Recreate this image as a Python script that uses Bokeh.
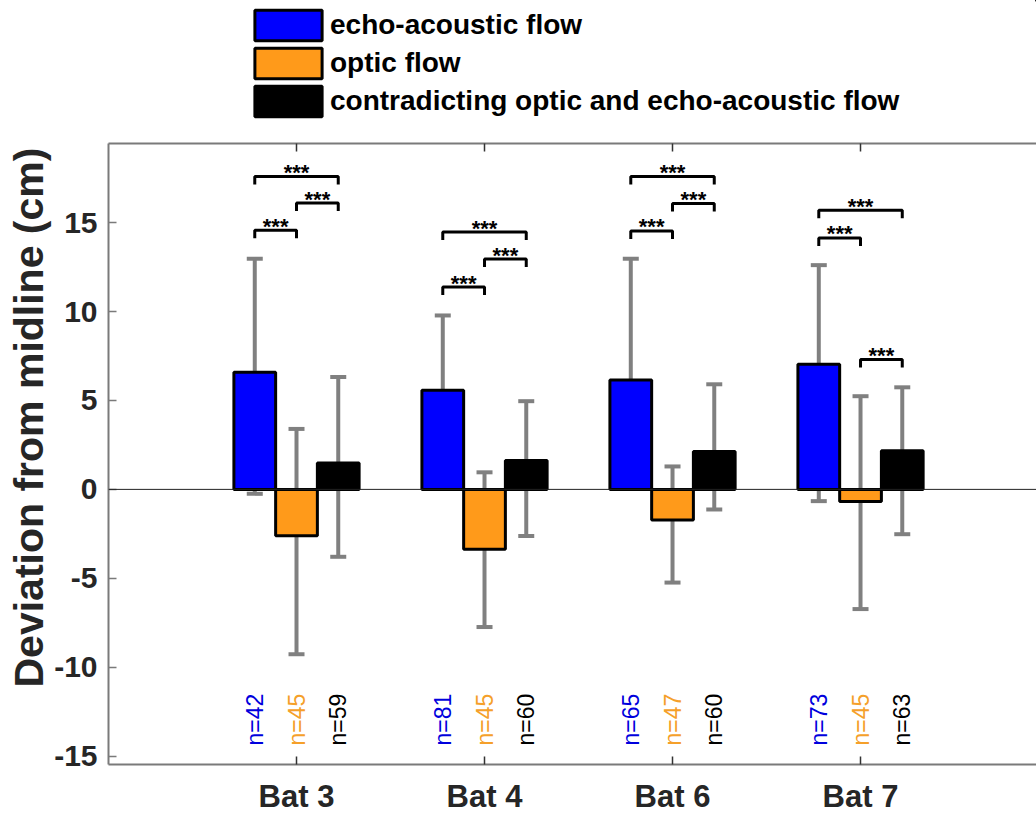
import math
from bokeh.plotting import figure
from bokeh.layouts import column
from bokeh.models import (ColumnDataSource, Whisker, TeeHead, Span, Legend, LegendItem,
                          FixedTicker, LinearAxis, Range1d, Title)
from bokeh.core.properties import value
from bokeh.embed import file_html
from bokeh.resources import INLINE

# ---------------- data ----------------
categories = ["Bat 3", "Bat 4", "Bat 6", "Bat 7"]
series_names = ["echo-acoustic flow", "optic flow",
                "contradicting optic and echo-acoustic flow"]

echo_mean = [6.58, 5.58, 6.15, 7.04]
echo_low = [-0.25, 1.01, 1.63, -0.66]
echo_high = [12.97, 9.78, 12.97, 12.61]

optic_mean = [-2.60, -3.36, -1.72, -0.68]
optic_low = [-9.27, -7.74, -5.24, -6.73]
optic_high = [3.40, 0.96, 1.29, 5.24]

contra_mean = [1.48, 1.63, 2.13, 2.17]
contra_low = [-3.79, -2.62, -1.13, -2.52]
contra_high = [6.32, 4.96, 5.91, 5.74]

n_echo = [42, 81, 65, 73]
n_optic = [45, 45, 47, 45]
n_contra = [59, 60, 60, 63]

# significance brackets: category index, series from, series to, height
bracket_cat = [0, 0, 0, 1, 1, 1, 2, 2, 2, 3, 3, 3]
bracket_from = [0, 1, 0, 0, 1, 0, 0, 1, 0, 0, 0, 1]
bracket_to = [2, 2, 1, 2, 2, 1, 2, 2, 1, 2, 1, 2]
bracket_height = [17.6, 16.1, 14.57, 14.47, 12.95, 11.38,
                  17.6, 16.08, 14.53, 15.69, 14.14, 7.31]
bracket_label = ["***"] * 12

y_ticks = [-15, -10, -5, 0, 5, 10, 15]
y_tick_labels = ["-15", "-10", "-5", "0", "5", "10", "15"]
y_label = "Deviation from midline (cm)"

# ---------------- style ----------------
COLORS = ["#0000ff", "#ff9a1a", "#000000"]
N_COLORS = ["#0000dd", "#f5a02a", "#000000"]
ERR = "#808080"
AXC = "#7a7a7a"
TXT = "#262626"
FONT = "Liberation Sans"
OFFSET = 0.222
BAR_W = 0.222
LEG = 0.45
LEG_H = 125

# ---------------- legend strip ----------------
lf = figure(width=1036, height=LEG_H, output_backend="svg", toolbar_location=None,
            x_range=Range1d(0, 1), y_range=Range1d(0, 1),
            min_border_left=0, min_border_right=0, min_border_top=0, min_border_bottom=0)
lf.axis.visible = False
lf.grid.visible = False
lf.outline_line_color = None
leg_items = []
for s in range(3):
    r = lf.vbar(x=[5], top=[5], bottom=4, width=0.1, fill_color=COLORS[s],
                line_color="black", line_width=3)
    leg_items.append(LegendItem(label=series_names[s], renderers=[r]))
legend = Legend(items=leg_items, location=(138, 5), orientation="vertical",
                glyph_width=84, glyph_height=38, label_height=38, spacing=0,
                padding=0, margin=0, label_standoff=-4,
                label_text_font=FONT, label_text_font_size="28px",
                label_text_font_style="bold", label_text_color="black",
                border_line_color=None, background_fill_alpha=0)
lf.add_layout(legend, "center")

# ---------------- main plot ----------------
p = figure(width=1036, height=816 - LEG_H, output_backend="svg", toolbar_location=None,
           x_range=Range1d(0, 4.936), y_range=Range1d(-15.47, 19.45),
           min_border_left=108, min_border_right=0, min_border_top=143 - LEG_H,
           min_border_bottom=48)
p.grid.visible = False
p.outline_line_color = None

means = [echo_mean, optic_mean, contra_mean]
lows = [echo_low, optic_low, contra_low]
highs = [echo_high, optic_high, contra_high]
ns = [n_echo, n_optic, n_contra]

centers = [i + 1 for i in range(len(categories))]

for s in range(3):
    xs = [c + (s - 1) * OFFSET for c in centers]
    src = ColumnDataSource(dict(x=xs, top=means[s], low=lows[s], high=highs[s],
                                n=["n=%d" % v for v in ns[s]],
                                ny=[-14.4] * len(xs)))
    p.vbar(x="x", top="top", bottom=0, width=BAR_W, source=src,
           fill_color=COLORS[s], line_color="black", line_width=3)
    w = Whisker(base="x", lower="low", upper="high", source=src,
                line_color=ERR, line_width=4,
                upper_head=TeeHead(size=16, line_color=ERR, line_width=4),
                lower_head=TeeHead(size=16, line_color=ERR, line_width=4))
    p.add_layout(w)
    p.text(x="x", y="ny", text="n", source=src, angle=math.pi / 2,
           text_align="left", text_baseline="middle",
           text_font=value(FONT), text_font_size="23px", text_color=N_COLORS[s])

p.add_layout(Span(location=0, dimension="width", line_color="#222222", line_width=1))

# brackets
bx, by, tx, ty = [], [], [], []
for c, a, b, h in zip(bracket_cat, bracket_from, bracket_to, bracket_height):
    xa = centers[c] + (a - 1) * OFFSET
    xb = centers[c] + (b - 1) * OFFSET
    bx.append([xa, xa, xb, xb])
    by.append([h - LEG, h, h, h - LEG])
    tx.append((xa + xb) / 2)
    ty.append(h)
p.multi_line(xs=bx, ys=by, line_color="black", line_width=3)
p.text(x=tx, y=ty, text=bracket_label, text_align="center", text_baseline="alphabetic",
       y_offset=-4, text_font=value(FONT), text_font_size="22px",
       text_font_style="bold", text_color="black")

# axes
p.yaxis.ticker = FixedTicker(ticks=y_ticks)
p.yaxis.major_label_overrides = {t: l for t, l in zip(y_ticks, y_tick_labels)}
p.yaxis.major_label_text_font = FONT
p.yaxis.major_label_text_font_size = "30px"
p.yaxis.major_label_text_font_style = "bold"
p.yaxis.major_label_text_color = TXT
p.yaxis.major_label_standoff = 11
p.yaxis.major_tick_in = 8
p.yaxis.major_tick_out = 0
p.yaxis.minor_tick_line_color = None
p.yaxis.axis_line_color = AXC
p.yaxis.axis_line_width = 2
p.yaxis.major_tick_line_color = AXC
p.yaxis.major_tick_line_width = 1.5

p.add_layout(Title(text=y_label, align="left", offset=77, standoff=0,
                   text_font=FONT, text_font_size="41px", text_font_style="bold",
                   text_color=TXT), "left")

p.xaxis.ticker = FixedTicker(ticks=centers)
p.xaxis.major_label_overrides = {c: name for c, name in zip(centers, categories)}
p.xaxis.major_label_text_font = FONT
p.xaxis.major_label_text_font_size = "31px"
p.xaxis.major_label_text_font_style = "bold"
p.xaxis.major_label_text_color = TXT
p.xaxis.major_label_standoff = 14
p.xaxis.major_tick_in = 8
p.xaxis.major_tick_out = 0
p.xaxis.minor_tick_line_color = None
p.xaxis.axis_line_color = AXC
p.xaxis.axis_line_width = 2
p.xaxis.major_tick_line_color = "#333333"
p.xaxis.major_tick_line_width = 1.5

top_ax = LinearAxis(ticker=FixedTicker(ticks=centers),
                    major_label_text_font_size="10px", major_label_text_color=None,
                    major_label_standoff=0, major_tick_in=8, major_tick_out=0,
                    minor_tick_line_color=None, axis_line_color=AXC, axis_line_width=2,
                    major_tick_line_color="#333333", major_tick_line_width=1.5)
p.add_layout(top_ax, "above")

layout = column(lf, p, spacing=0)
open("out.html", "w").write(file_html(layout, INLINE))
